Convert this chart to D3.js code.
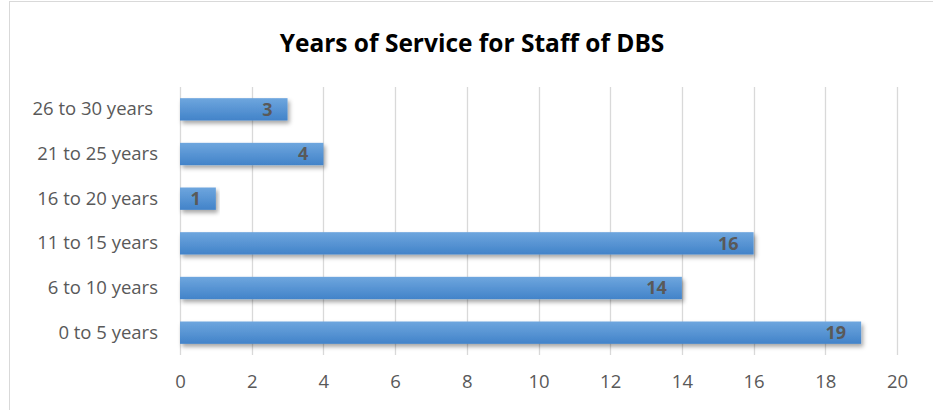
<!DOCTYPE html>
<html>
<head>
<meta charset="utf-8">
<script src="https://cdn.jsdelivr.net/npm/d3@7"></script>
<style>
  html, body { margin: 0; padding: 0; background: #fff; }
  svg { display: block; font-family: "Open Sans", "Liberation Sans", sans-serif; }
</style>
</head>
<body>
<svg id="chart" width="933" height="410"></svg>
<script>
// Staff counts by length of service
const categories = ["0 to 5 years", "6 to 10 years", "11 to 15 years", "16 to 20 years", "21 to 25 years", "26 to 30 years "];
const staffCounts = [19, 14, 16, 1, 4, 3];
const xTicks = [0, 2, 4, 6, 8, 10, 12, 14, 16, 18, 20];
const title = "Years of Service for Staff of DBS";

const svg = d3.select("#chart");
const W = 933, H = 410;
const plot = { left: 180, right: 897, top: 87, bottom: 355 };

// chart frame
svg.append("rect")
  .attr("x", 9.5).attr("y", 1.5)
  .attr("width", W + 10).attr("height", H + 10)
  .attr("fill", "#fff").attr("stroke", "#d9d9d9").attr("stroke-width", 1);

const defs = svg.append("defs");
const grad = defs.append("linearGradient")
  .attr("id", "barGrad").attr("x1", 0).attr("y1", 0).attr("x2", 0).attr("y2", 1);
grad.append("stop").attr("offset", "0%").attr("stop-color", "#6ea6de");
grad.append("stop").attr("offset", "100%").attr("stop-color", "#4283c9");

const shadow = defs.append("filter").attr("id", "barShadow")
  .attr("x", "-5%").attr("y", "-20%").attr("width", "115%").attr("height", "160%");
shadow.append("feDropShadow")
  .attr("dx", 2).attr("dy", 3).attr("stdDeviation", 2)
  .attr("flood-color", "#000").attr("flood-opacity", 0.35);

const x = d3.scaleLinear().domain([0, 20]).range([plot.left, plot.right]);
const y = d3.scaleBand()
  .domain(categories.slice().reverse())
  .range([plot.top, plot.bottom])
  .paddingInner(0.5).paddingOuter(0.25);

// vertical gridlines
svg.append("g").selectAll("line")
  .data(xTicks)
  .join("line")
  .attr("x1", d => Math.round(x(d)) + 0.5)
  .attr("x2", d => Math.round(x(d)) + 0.5)
  .attr("y1", plot.top).attr("y2", plot.bottom)
  .attr("stroke", "#d9d9d9").attr("stroke-width", 1.3);

// x axis labels
const xAxis = svg.append("g")
  .attr("transform", `translate(0,${plot.bottom})`)
  .call(d3.axisBottom(x).tickValues(xTicks).tickSize(0).tickPadding(20));
xAxis.select(".domain").remove();
xAxis.selectAll("text")
  .attr("font-size", 18.5).attr("fill", "#595959")
  .attr("font-family", "'Open Sans', sans-serif");

// y axis labels
const yAxis = svg.append("g")
  .attr("transform", `translate(${plot.left},0)`)
  .call(d3.axisLeft(y).tickSize(0).tickPadding(22));
yAxis.select(".domain").remove();
yAxis.selectAll("text")
  .attr("font-size", 18.5).attr("fill", "#595959")
  .attr("font-family", "'Open Sans', sans-serif")
  .style("white-space", "pre");

const data = categories.map((c, i) => ({ category: c, value: staffCounts[i] }));

// bars
svg.append("g").selectAll("rect")
  .data(data)
  .join("rect")
  .attr("x", x(0))
  .attr("y", d => y(d.category))
  .attr("width", d => x(d.value) - x(0))
  .attr("height", y.bandwidth())
  .attr("fill", "url(#barGrad)")
  .attr("filter", "url(#barShadow)");

// value labels at inside end
svg.append("g").selectAll("text")
  .data(data)
  .join("text")
  .attr("x", d => x(d.value) - 15)
  .attr("y", d => y(d.category) + y.bandwidth() / 2)
  .attr("dy", "0.36em")
  .attr("text-anchor", "end")
  .attr("font-size", 18).attr("font-weight", "bold")
  .attr("fill", "#595959")
  .text(d => d.value);

// title
svg.append("text")
  .attr("x", 472).attr("y", 52)
  .attr("text-anchor", "middle")
  .attr("font-size", 24.5).attr("font-weight", "bold")
  .attr("fill", "#000")
  .text(title);
</script>
</body>
</html>
